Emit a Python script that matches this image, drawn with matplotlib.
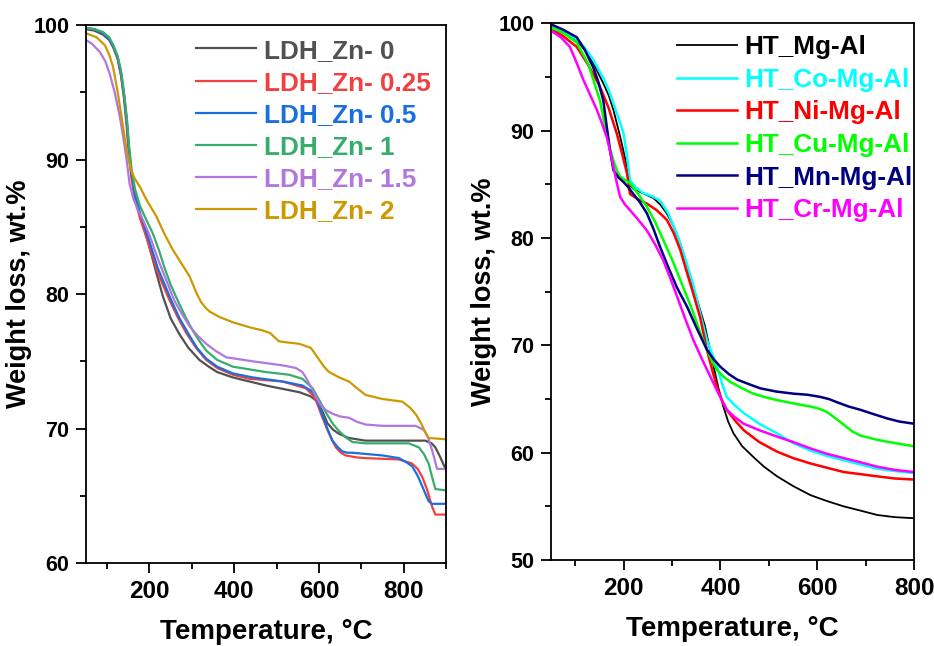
import matplotlib
matplotlib.use('Agg')
import matplotlib.pyplot as plt
from matplotlib.ticker import MultipleLocator

plt.rcParams['font.family'] = ['Liberation Sans', 'DejaVu Sans']
plt.rcParams['font.weight'] = 'bold'

# ---- left panel: LDH_Zn series (temperature, weight %) ----
zn0_T = [50, 70, 90, 105, 115, 125, 133, 140, 146, 151, 156, 163, 175, 193, 205, 216, 232, 250,
         271, 292, 318, 340, 360, 397, 475, 554, 580, 593, 608, 620, 634, 648, 670, 710,
         790, 851, 866, 875, 886, 896, 900]
zn0_W = [99.7, 99.6, 99.3, 98.9, 98.3, 97.5, 96.3, 94.8, 93.0, 91.0, 89.3, 87.8, 86.2, 84.3, 82.9,
         81.6, 79.8, 78.2, 77.0, 76.0, 75.1, 74.6, 74.2, 73.8, 73.2, 72.7, 72.4, 72.1, 71.3, 70.4,
         69.9, 69.6, 69.3, 69.1, 69.1, 69.1, 68.9, 68.6, 67.9, 67.2, 67.0]

zn025_T = [50, 70, 90, 105, 115, 125, 133, 140, 146, 151, 157, 166, 178, 195, 218, 248, 268,
           287, 310, 334, 360, 397, 436, 514, 569, 585, 593, 606, 620, 630, 640, 652, 663, 690,
           710, 789, 820, 833, 844, 856, 867, 875, 900]
zn025_W = [99.8, 99.7, 99.4, 99.0, 98.4, 97.5, 96.2, 94.5, 92.5, 90.5, 88.7, 87.0, 85.6, 84.0,
           81.7, 79.5, 78.2, 77.1, 76.0, 75.1, 74.5, 74.0, 73.7, 73.5, 73.0, 72.5, 72.1, 71.0, 69.9,
           69.2, 68.6, 68.2, 68.0, 67.85, 67.8, 67.7, 67.4, 67.0, 66.4, 65.4, 64.2, 63.6, 63.6]

zn05_T = [50, 70, 90, 105, 115, 125, 133, 140, 147, 152, 158, 167, 180, 197, 220, 252, 271,
          291, 312, 334, 360, 397, 444, 514, 561, 582, 593, 606, 620, 632, 645, 655, 667, 679,
          750, 789, 806, 820, 833, 844, 852, 859, 867, 900]
zn05_W = [99.8, 99.7, 99.4, 99.0, 98.4, 97.6, 96.4, 94.7, 92.6, 90.6, 88.9, 87.2, 85.8, 84.2,
          81.9, 79.5, 78.2, 77.1, 76.0, 75.2, 74.6, 74.1, 73.8, 73.5, 73.2, 72.8, 72.4, 71.2, 70.0,
          69.1, 68.6, 68.3, 68.2, 68.2, 68.0, 67.8, 67.5, 67.2, 66.5, 65.7, 65.1, 64.6, 64.4, 64.4]

zn1_T = [50, 70, 90, 105, 115, 125, 133, 140, 147, 152, 158, 166, 177, 190, 208, 222, 235,
         250, 267, 285, 302, 318, 334, 360, 397, 475, 530, 561, 585, 601, 620, 634, 648, 665,
         679, 710, 812, 836, 848, 859, 868, 875, 900]
zn1_W = [99.8, 99.7, 99.5, 99.1, 98.5, 97.7, 96.6, 95.0, 93.0, 91.0, 89.2, 87.8, 86.6, 85.7,
         84.5, 83.3, 82.0, 80.7, 79.5, 78.3, 77.3, 76.5, 75.8, 75.1, 74.6, 74.2, 74.0, 73.7, 73.0,
         72.1, 71.0, 70.3, 69.8, 69.3, 69.0, 68.9, 68.9, 68.6, 68.1, 67.4, 66.3, 65.5, 65.4]

zn15_T = [50, 65, 83, 96, 106, 118, 130, 138, 146, 153, 162, 172, 185, 200, 220, 240, 259,
          277, 295, 314, 334, 355, 381, 444, 514, 546, 561, 571, 581, 591, 601, 615, 632, 650,
          671, 690, 710, 750, 828, 848, 858, 867, 874, 879, 900]
zn15_W = [98.9, 98.6, 98.0, 97.3, 96.4, 95.0, 93.2, 91.7, 90.0, 88.2, 87.1, 86.3, 85.5, 84.4,
          82.6, 81.0, 79.5, 78.5, 77.6, 76.9, 76.3, 75.8, 75.3, 75.0, 74.7, 74.5, 74.2, 73.7, 73.1,
          72.5, 71.9, 71.4, 71.1, 70.9, 70.8, 70.5, 70.3, 70.2, 70.2, 69.9, 69.3, 68.4, 67.6,
          67.0, 67.0]

zn2_T = [50, 75, 95, 105, 114, 124, 134, 146, 152, 157, 165, 177, 195, 216, 235, 255, 275,
         295, 312, 322, 332, 342, 365, 397, 440, 467, 485, 495, 505, 514, 554, 581, 601, 612,
         624, 648, 671, 690, 710, 750, 797, 817, 830, 841, 850, 859, 900]
zn2_W = [99.4, 99.1, 98.5, 97.8, 96.9, 95.2, 93.2, 90.7, 89.8, 89.2, 88.6, 88.0, 86.9, 85.8,
         84.5, 83.3, 82.3, 81.3, 80.0, 79.4, 79.0, 78.7, 78.3, 77.9, 77.5, 77.3, 77.1, 76.8, 76.5,
         76.45, 76.3, 76.0, 75.1, 74.6, 74.2, 73.8, 73.5, 73.0, 72.5, 72.2, 72.0, 71.5, 71.0,
         70.4, 69.8, 69.3, 69.2]

left_series = [(zn0_T, zn0_W, 'LDH_Zn- 0', '#515151'),
               (zn025_T, zn025_W, 'LDH_Zn- 0.25', '#F14040'),
               (zn05_T, zn05_W, 'LDH_Zn- 0.5', '#1A6FDF'),
               (zn1_T, zn1_W, 'LDH_Zn- 1', '#37AD6B'),
               (zn15_T, zn15_W, 'LDH_Zn- 1.5', '#B177DE'),
               (zn2_T, zn2_W, 'LDH_Zn- 2', '#CC9900')]

# ---- right panel: HT series ----
mgal_T = [50, 75, 103, 120, 137, 158, 169, 179, 193, 200, 207, 213, 222, 234, 248, 262, 276,
          289, 303, 317, 330, 344, 356, 368, 377, 386, 396, 406, 416, 427, 445, 468, 490, 517,
          550, 586, 620, 655, 690, 724, 760, 800]
mgal_W = [99.8, 99.3, 98.4, 97.5, 96.3, 94.4, 93.3, 91.9, 89.4, 88.0, 86.6, 84.9, 84.5, 84.3,
          84.0, 83.7, 83.1, 82.3, 81.1, 79.5, 77.6, 75.4, 73.6, 71.8, 69.9, 68.0, 66.0, 64.3,
          62.9, 61.8, 60.6, 59.6, 58.7, 57.8, 56.9, 56.05, 55.5, 55.0, 54.6, 54.2, 54.0, 53.9]

co_T = [50, 75, 103, 120, 137, 158, 169, 179, 190, 200, 207, 213, 225, 240, 258, 275, 292,
        310, 327, 344, 358, 372, 383, 393, 403, 413, 430, 448, 480, 517, 550, 586, 620, 655,
        690, 724, 760, 800]
co_W = [99.7, 99.3, 98.5, 97.7, 96.6, 94.9, 93.8, 92.5, 91.1, 89.7, 87.6, 85.4, 84.7, 84.2,
        83.9, 83.5, 82.3, 80.4, 78.1, 75.6, 73.0, 70.5, 69.2, 68.0, 66.5, 65.2, 64.4, 63.7, 62.7,
        61.8, 60.9, 60.2, 59.7, 59.3, 58.9, 58.5, 58.3, 58.1]

ni_T = [50, 75, 103, 127, 151, 169, 186, 197, 207, 213, 230, 248, 268, 289, 303, 317, 330,
        344, 358, 372, 383, 393, 403, 413, 430, 448, 480, 517, 550, 586, 620, 655, 690, 724,
        760, 800]
ni_W = [99.5, 98.8, 97.8, 96.1, 94.1, 92.1, 89.7, 87.8, 86.0, 84.1, 83.6, 83.2, 82.6, 81.7,
        80.5, 78.9, 76.9, 74.8, 72.6, 69.6, 67.7, 66.1, 64.9, 64.0, 63.0, 62.1, 61.0, 60.1, 59.5,
        59.0, 58.6, 58.2, 58.0, 57.8, 57.6, 57.5]

cu_T = [50, 75, 103, 127, 151, 158, 165, 172, 179, 186, 193, 203, 213, 230, 248, 265, 282,
        300, 317, 331, 344, 358, 372, 383, 393, 406, 420, 445, 468, 490, 517, 550, 586, 604,
        620, 638, 655, 672, 689, 724, 760, 800]
cu_W = [99.6, 99.1, 98.2, 96.2, 92.8, 91.2, 89.7, 88.3, 87.2, 86.3, 85.7, 85.4, 85.1, 84.1,
        82.9, 81.5, 79.8, 78.0, 76.1, 74.5, 73.0, 71.2, 69.6, 68.5, 67.7, 67.1, 66.6, 66.0, 65.5,
        65.2, 64.9, 64.6, 64.3, 64.1, 63.8, 63.2, 62.6, 62.0, 61.6, 61.2, 60.9, 60.6]

mn_T = [50, 75, 103, 120, 137, 148, 158, 165, 172, 179, 190, 200, 210, 220, 234, 248, 262,
        275, 292, 310, 331, 352, 372, 386, 400, 418, 435, 458, 482, 515, 551, 580, 606, 624,
        641, 665, 689, 716, 744, 770, 800]
mn_W = [99.9, 99.4, 98.7, 97.5, 95.9, 94.5, 92.8, 90.4, 88.1, 86.3, 85.6, 85.2, 84.7, 84.1,
        83.3, 82.3, 80.8, 79.2, 77.3, 75.4, 73.6, 71.5, 69.6, 68.7, 68.0, 67.3, 66.8, 66.4, 66.0,
        65.7, 65.5, 65.4, 65.2, 65.0, 64.7, 64.3, 64.0, 63.6, 63.2, 62.9, 62.7]

cr_T = [50, 70, 89, 103, 117, 131, 145, 155, 165, 172, 179, 186, 193, 203, 213, 230, 248,
        265, 282, 296, 310, 327, 344, 362, 379, 396, 413, 430, 448, 480, 517, 550, 586, 620,
        655, 690, 724, 760, 800]
cr_W = [99.3, 98.7, 97.8, 96.3, 94.7, 93.3, 91.9, 90.7, 89.4, 88.1, 86.6, 85.1, 83.8, 83.1,
        82.6, 81.7, 80.7, 79.4, 77.9, 76.3, 74.6, 72.5, 70.5, 68.7, 67.1, 65.5, 64.0, 63.3, 62.7,
        62.1, 61.5, 61.0, 60.4, 59.9, 59.5, 59.1, 58.7, 58.4, 58.2]

right_series = [(mgal_T, mgal_W, 'HT_Mg-Al', '#000000', 1.3),
                (co_T, co_W, 'HT_Co-Mg-Al', '#00FFFF', 1.8),
                (ni_T, ni_W, 'HT_Ni-Mg-Al', '#FF0000', 1.8),
                (cu_T, cu_W, 'HT_Cu-Mg-Al', '#00FF00', 1.8),
                (mn_T, mn_W, 'HT_Mn-Mg-Al', '#000080', 1.8),
                (cr_T, cr_W, 'HT_Cr-Mg-Al', '#FF00FF', 1.8)]

fig = plt.figure(figsize=(9.34, 6.46), dpi=100)
ax1 = fig.add_axes([0.092, 0.1285, 0.3855, 0.8325])
ax2 = fig.add_axes([0.590, 0.133, 0.3886, 0.831])

for T, W, lab, c in left_series:
    ax1.plot(T, W, color=c, lw=1.6, label=lab)
for T, W, lab, c, lw in right_series:
    ax2.plot(T, W, color=c, lw=lw, label=lab)

ax1.set_xlim(50, 900)
ax1.set_ylim(60, 100)
ax2.set_xlim(50, 800)
ax2.set_ylim(50, 100)

for ax in (ax1, ax2):
    ax.xaxis.set_major_locator(MultipleLocator(200))
    ax.xaxis.set_minor_locator(MultipleLocator(100))
    ax.yaxis.set_major_locator(MultipleLocator(10))
    ax.yaxis.set_minor_locator(MultipleLocator(5))
    ax.tick_params(which='major', direction='out', length=7, width=1.3, pad=5)
    ax.tick_params(which='minor', direction='out', length=4, width=1.3)
    ax.tick_params(axis='x', labelsize=17.5)
    ax.tick_params(axis='y', labelsize=15.5)
    for s in ax.spines.values():
        s.set_linewidth(1.3)
    for lbl in ax.get_xticklabels() + ax.get_yticklabels():
        lbl.set_fontweight('bold')
    ax.set_xlabel('Temperature, °C', fontsize=20, fontweight='bold', labelpad=12)
    ax.set_ylabel('Weight loss, wt.%', fontsize=19.5, fontweight='bold', labelpad=1)

ax1.legend(loc='upper left', bbox_to_anchor=(0.306, 0.975), frameon=False,
           prop={'size': 18.8, 'weight': 'bold'}, labelcolor='linecolor',
           handlelength=2.3, handletextpad=0.3, labelspacing=0.31,
           borderpad=0, borderaxespad=0)
ax2.legend(loc='upper left', bbox_to_anchor=(0.347, 0.978), frameon=False,
           prop={'size': 18.8, 'weight': 'bold'}, labelcolor='linecolor',
           handlelength=2.3, handletextpad=0.27, labelspacing=0.33,
           borderpad=0, borderaxespad=0)

fig.savefig('out.png', dpi=100)
